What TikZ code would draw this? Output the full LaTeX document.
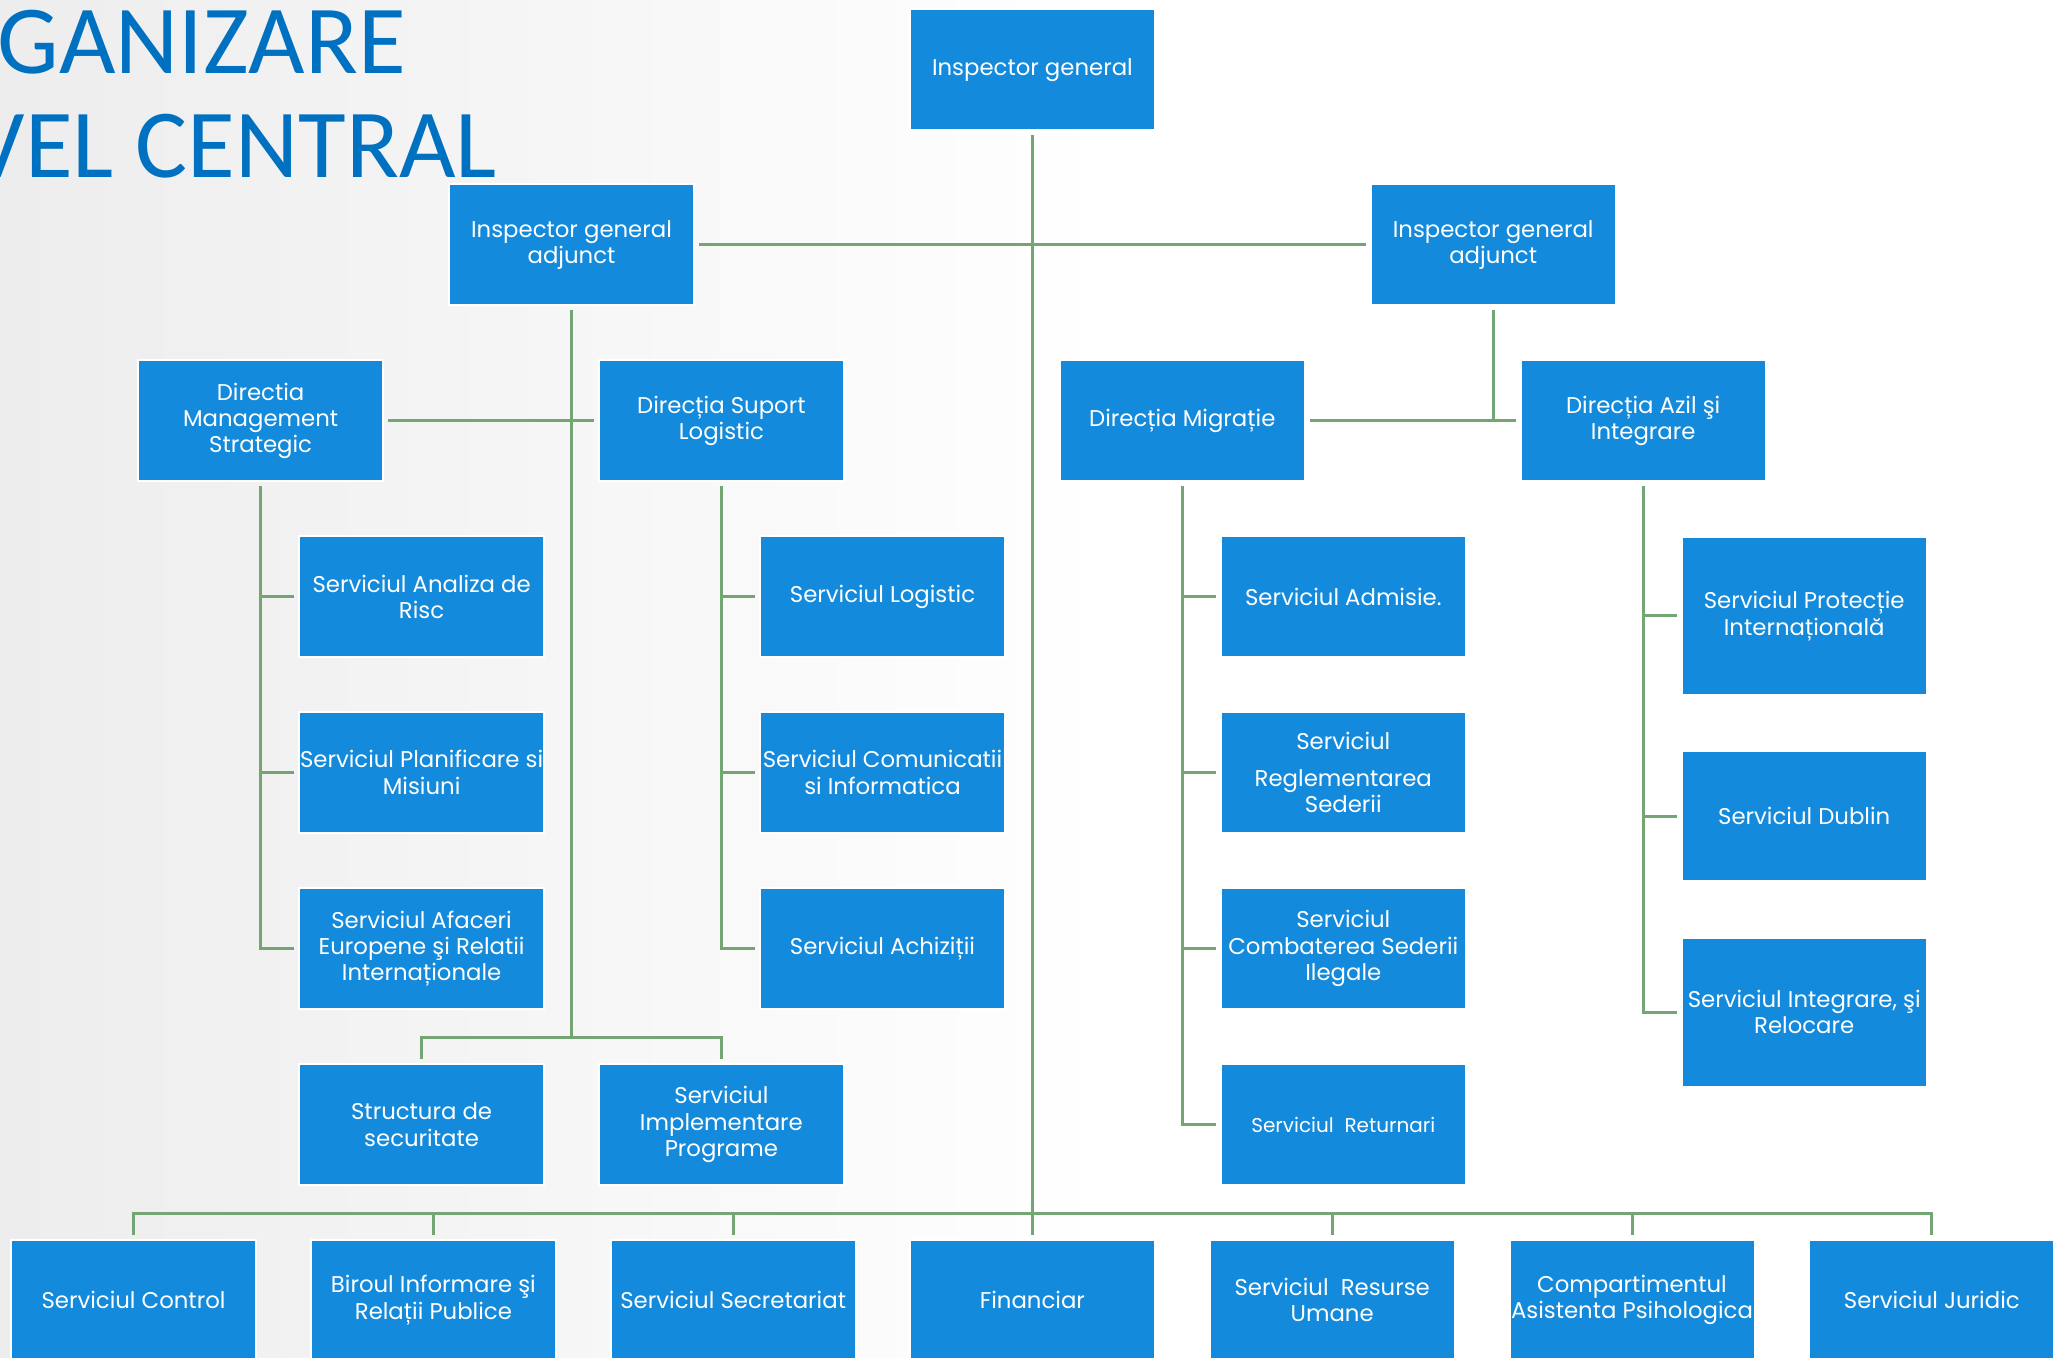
\documentclass[tikz,border=0pt]{standalone}
\usepackage{fontspec}
\setmainfont{Poppins}
\newfontfamily\titlefont{Carlito}
\usetikzlibrary{positioning}
\definecolor{boxblue}{RGB}{19,138,219}
\definecolor{linegreen}{RGB}{116,166,116}
\definecolor{titleblue}{RGB}{0,112,192}
\definecolor{bgL}{RGB}{220,220,220}
\definecolor{bgR}{RGB}{238,238,238}
\pgfdeclarehorizontalshading{bgsh}{100bp}{color(0bp)=(bgL); color(52bp)=(white); color(75bp)=(white); color(100bp)=(bgR)}
\tikzset{
  orgbox/.style={rectangle, fill=boxblue, draw=white, line width=1pt, text=white,
    minimum width=122.5pt, minimum height=60.5pt, inner sep=0pt, align=center,
    font=\fontsize{11.4}{13.2}\selectfont},
  conn/.style={draw=linegreen, line width=1.5pt},
  titletext/.style={anchor=base east, inner sep=0pt, text=titleblue, font=\titlefont\fontsize{48.8}{50}\selectfont},
}
\begin{document}
\begin{tikzpicture}[x=0.5pt,y=-0.5pt]
\useasboundingbox (0,0) rectangle (2053,1358);
\clip (0,0) rectangle (2053,1358);
\shade[shading=bgsh] (0,0) rectangle (2053,1358);

% title
\node[titletext] (t1) at (406,74) {ORGANIZARE};
\node[titletext] (t2) at (497,178) {NIVEL CENTRAL};

% nodes
\node[orgbox] (ig) at (1032.4,70) {Inspector general};
\node[orgbox] (igaL) at (571.5,244.8) {Inspector general\\adjunct};
\node[orgbox] (igaR) at (1493.2,244.8) {Inspector general\\adjunct};

\node[orgbox] (dms) at (260.6,420.9) {Directia\\Management\\Strategic};
\node[orgbox] (dsl) at (721.4,420.9) {Direcția Suport\\Logistic};
\node[orgbox] (dmig) at (1182.3,420.9) {Direcția Migrație};
\node[orgbox] (dai) at (1643.2,420.9) {Direcția Azil şi\\Integrare};

\node[orgbox] (sar) at (421.6,597) {Serviciul Analiza de\\Risc};
\node[orgbox] (spm) at (421.6,772.5) {Serviciul Planificare si\\Misiuni};
\node[orgbox] (sae) at (421.6,948.6) {Serviciul Afaceri\\Europene şi Relatii\\Internaționale};

\node[orgbox] (slog) at (882.5,597) {Serviciul Logistic};
\node[orgbox] (sci) at (882.5,772.5) {Serviciul Comunicatii\\si Informatica};
\node[orgbox] (sach) at (882.5,948.6) {Serviciul Achiziții};

\node[orgbox] (sadm) at (1343.3,597) {Serviciul Admisie.};
\node[orgbox] (srs) at (1343.3,772.5) {Serviciul\\[5pt]Reglementarea\\Sederii};
\node[orgbox] (scsi) at (1343.3,948.6) {Serviciul\\Combaterea Sederii\\Ilegale};
\node[orgbox, font=\fontsize{10}{12}\selectfont] (sret) at (1343.3,1124.7) {Serviciul\ \ Returnari};

\node[orgbox, minimum height=79.2pt] (spi) at (1804.2,616) {Serviciul Protecție\\Internațională};
\node[orgbox, minimum height=64.8pt] (sdub) at (1804.2,816.3) {Serviciul Dublin};
\node[orgbox, minimum height=74.6pt] (sir) at (1804.2,1012.1) {Serviciul Integrare, şi\\Relocare};

\node[orgbox] (strsec) at (421.6,1124.7) {Structura de\\securitate};
\node[orgbox] (sip) at (721.4,1124.7) {Serviciul\\Implementare\\Programe};

\node[orgbox] (sctrl) at (133.5,1300.1) {Serviciul Control};
\node[orgbox] (birou) at (433.4,1300.1) {Biroul Informare şi\\Relații Publice};
\node[orgbox] (ssec) at (733.2,1300.1) {Serviciul Secretariat};
\node[orgbox] (fin) at (1032.4,1300.1) {Financiar};
\node[orgbox] (sru) at (1332.2,1300.1) {Serviciul\ \ Resurse\\Umane};
\node[orgbox] (cap) at (1632.0,1300.1) {Compartimentul\\Asistenta Psihologica};
\node[orgbox] (sjur) at (1931.8,1300.1) {Serviciul Juridic};

% junction coordinates
\coordinate (jL) at (571.5,1037);
\coordinate (bus) at (1032.4,1213.7);

% connectors
\begin{scope}[conn, shorten <=2pt, shorten >=2pt]
\draw (ig.south) -- (fin.north);
\draw (igaL.east) -- (igaR.west);
\draw (dms.east) -- (dsl.west);
\draw (dmig.east) -- (dai.west);
\end{scope}
\begin{scope}[conn]
\draw[shorten <=2pt] (igaL.south) -- (jL);
\draw[shorten <=2pt] (strsec.north) |- (jL);
\draw[shorten <=2pt] (sip.north) |- (jL);
\draw[shorten <=2pt] (igaR.south) -- (igaR.south |- dai.west);

\draw[shorten <=2pt, shorten >=2pt] (dms.south) |- (sar.west);
\draw[shorten <=2pt, shorten >=2pt] (dms.south) |- (spm.west);
\draw[shorten <=2pt, shorten >=2pt] (dms.south) |- (sae.west);

\draw[shorten <=2pt, shorten >=2pt] (dsl.south) |- (slog.west);
\draw[shorten <=2pt, shorten >=2pt] (dsl.south) |- (sci.west);
\draw[shorten <=2pt, shorten >=2pt] (dsl.south) |- (sach.west);

\draw[shorten <=2pt, shorten >=2pt] (dmig.south) |- (sadm.west);
\draw[shorten <=2pt, shorten >=2pt] (dmig.south) |- (srs.west);
\draw[shorten <=2pt, shorten >=2pt] (dmig.south) |- (scsi.west);
\draw[shorten <=2pt, shorten >=2pt] (dmig.south) |- (sret.west);

\draw[shorten <=2pt, shorten >=2pt] (dai.south) |- (spi.west);
\draw[shorten <=2pt, shorten >=2pt] (dai.south) |- (sdub.west);
\draw[shorten <=2pt, shorten >=2pt] (dai.south) |- (sir.west);

\draw[shorten <=2pt] (sctrl.north) |- (bus);
\draw[shorten <=2pt] (birou.north) |- (bus);
\draw[shorten <=2pt] (ssec.north) |- (bus);
\draw[shorten <=2pt] (sru.north) |- (bus);
\draw[shorten <=2pt] (cap.north) |- (bus);
\draw[shorten <=2pt] (sjur.north) |- (bus);
\end{scope}
\end{tikzpicture}
\end{document}
